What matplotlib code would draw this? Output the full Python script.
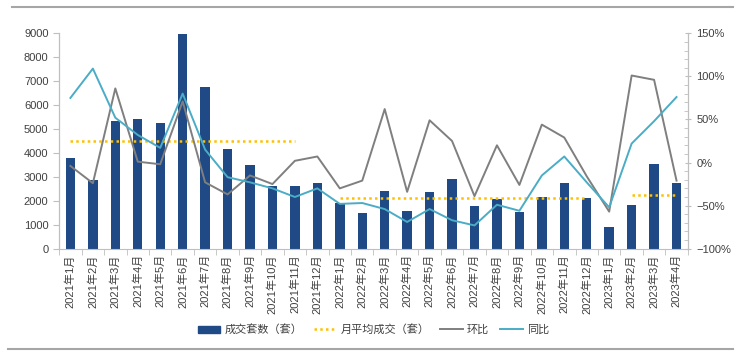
import numpy as np
import matplotlib
matplotlib.use('Agg')
import matplotlib.pyplot as plt
from matplotlib.ticker import MultipleLocator, FuncFormatter
from matplotlib.lines import Line2D

plt.rcParams['font.family'] = ['Liberation Sans', 'Noto Sans CJK SC', 'DejaVu Sans']

# data
months = ['2021年1月', '2021年2月', '2021年3月', '2021年4月', '2021年5月', '2021年6月',
          '2021年7月', '2021年8月', '2021年9月', '2021年10月', '2021年11月', '2021年12月',
          '2022年1月', '2022年2月', '2022年3月', '2022年4月', '2022年5月', '2022年6月',
          '2022年7月', '2022年8月', '2022年9月', '2022年10月', '2022年11月', '2022年12月',
          '2023年1月', '2023年2月', '2023年3月', '2023年4月']
deals = [3800, 2850, 5350, 5400, 5250, 8950, 6750, 4180, 3500, 2625, 2625, 2765,
         1920, 1500, 2400, 1580, 2360, 2920, 1770, 2080, 1520, 2170, 2765, 2125,
         900, 1810, 3520, 2765]
avg_month = [4500] * 11 + [np.nan] + [2125] * 12 + [np.nan] + [2250] * 3
mom = [-4, -24, 86, 1, -2, 71, -23, -37, -15, -25, 2, 7,
       -30, -21, 62, -34, 49, 25, -39, 20, -26, 44, 29, -16,
       -57, 101, 96, -21]
yoy = [75, 109, 52, 32, 17, 80, 15, -17, -23, -30, -40, -30,
       -48, -47, -54, -69, -54, -67, -73, -49, -56, -15, 7, -23,
       -52, 22, 48, 76]

bar_c = '#1F4A85'
gold = '#FFC000'
grey = '#7F7F7F'
cyan = '#4BACC6'
spine_c = '#BFBFBF'
txt_c = '#404040'

x = np.arange(len(months))

fig = plt.figure(figsize=(7.4, 3.53), dpi=100)
ax = fig.add_axes([0.0797, 0.2955, 0.8503, 0.6102])
ax2 = ax.twinx()

ax.bar(x, deals, width=0.42, color=bar_c, zorder=2)
ax.plot(x, avg_month, color=gold, lw=1.8, linestyle=(0, (1, 1.3)), zorder=3)
ax2.plot(x, mom, color=grey, lw=1.4, zorder=4)
ax2.plot(x, yoy, color=cyan, lw=1.4, zorder=5)

ax.set_xlim(-0.51, 27.52)
ax.set_ylim(0, 9000)
ax2.set_ylim(-100, 150)
ax.yaxis.set_major_locator(MultipleLocator(1000))
ax2.yaxis.set_major_locator(MultipleLocator(50))
ax2.yaxis.set_minor_locator(MultipleLocator(10))
ax2.yaxis.set_major_formatter(FuncFormatter(lambda v, p: f'{v:.0f}%'.replace('-', '−')))

ax.set_xticks(x)
ax.set_xticklabels(months, rotation=90, fontsize=8, color=txt_c)
ax.set_xticks(np.arange(-0.5, 28, 1), minor=True)
ax.tick_params(axis='x', which='major', length=0, pad=4)
ax.tick_params(axis='x', which='minor', length=4, color=spine_c, direction='out')
ax.tick_params(axis='y', labelsize=8, labelcolor=txt_c, color=spine_c, length=4)
ax2.tick_params(axis='y', which='major', labelsize=8, labelcolor=txt_c, color=spine_c,
                length=5, direction='inout')
ax2.tick_params(axis='y', which='minor', color=spine_c, length=3, direction='in')

for a in (ax, ax2):
    a.spines['top'].set_visible(False)
    for s in ('left', 'right', 'bottom'):
        a.spines[s].set_color(spine_c)
ax2.spines['bottom'].set_visible(False)

handles = [
    plt.Rectangle((0, 0), 1, 1, color=bar_c),
    Line2D([], [], color=gold, lw=1.8, linestyle=(0, (1, 1.3))),
    Line2D([], [], color=grey, lw=1.4),
    Line2D([], [], color=cyan, lw=1.4),
]
labels = ['成交套数（套）', '月平均成交（套）', '环比', '同比']
leg = fig.legend(handles, labels, loc='center', bbox_to_anchor=(0.505, 0.066), ncol=4,
                 frameon=False, fontsize=8, handlelength=2.0, handleheight=0.6,
                 columnspacing=1.0, handletextpad=0.4)
for t in leg.get_texts():
    t.set_color(txt_c)

# frame lines at top and bottom of the picture
fig.add_artist(Line2D([0.016, 0.99], [0.980, 0.980], color='#A6A6A6', lw=1.5))
fig.add_artist(Line2D([0.011, 0.99], [0.010, 0.010], color='#A6A6A6', lw=1.5))

fig.savefig('out.png', dpi=100)
